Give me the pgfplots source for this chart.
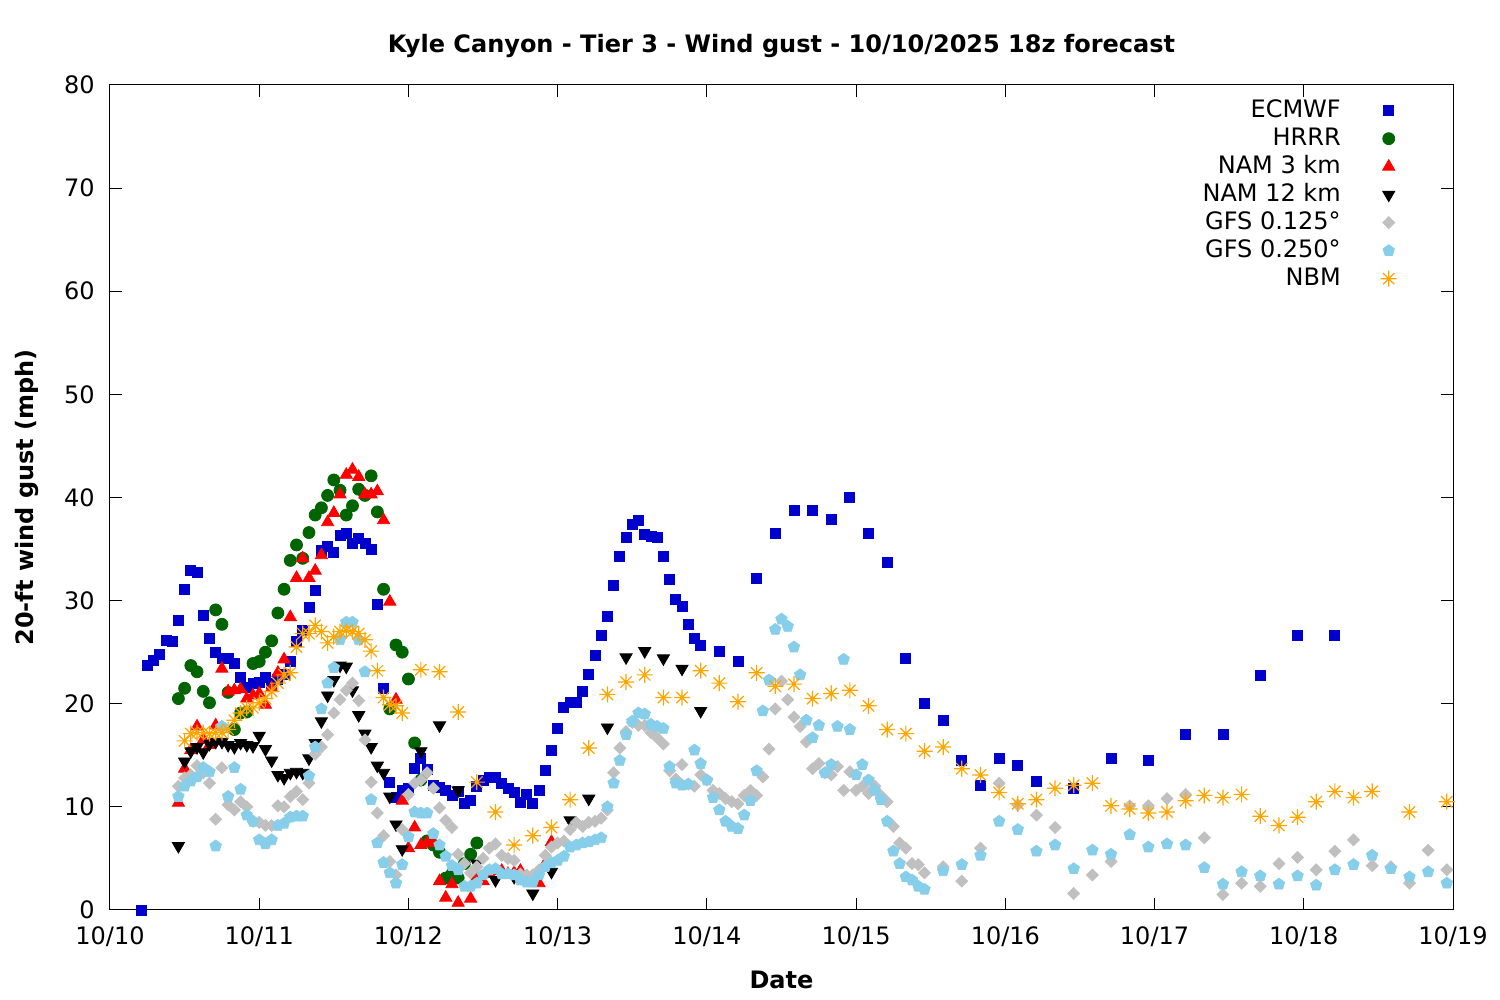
\documentclass[border=0pt]{standalone}
\usepackage{fontspec}
\setmainfont{DejaVu Sans}
\usepackage{pgfplots}
\pgfplotsset{compat=1.18}
\usetikzlibrary{plotmarks}

\definecolor{ecmwf}{HTML}{0000CC}
\definecolor{hrrr}{HTML}{006400}
\definecolor{namthree}{HTML}{FF0000}
\definecolor{namtwelve}{HTML}{000000}
\definecolor{gfsfine}{HTML}{C0C0C0}
\definecolor{gfscoarse}{HTML}{87CEEB}
\definecolor{nbm}{HTML}{FFA500}

% gnuplot-style "*" point: a plus and a cross on top of each other
\pgfdeclareplotmark{gpstar}{%
  \pgfpathmoveto{\pgfqpoint{-\pgfplotmarksize}{0pt}}%
  \pgfpathlineto{\pgfqpoint{\pgfplotmarksize}{0pt}}%
  \pgfpathmoveto{\pgfqpoint{0pt}{-\pgfplotmarksize}}%
  \pgfpathlineto{\pgfqpoint{0pt}{\pgfplotmarksize}}%
  \pgfpathmoveto{\pgfqpoint{-0.707\pgfplotmarksize}{-0.707\pgfplotmarksize}}%
  \pgfpathlineto{\pgfqpoint{0.707\pgfplotmarksize}{0.707\pgfplotmarksize}}%
  \pgfpathmoveto{\pgfqpoint{-0.707\pgfplotmarksize}{0.707\pgfplotmarksize}}%
  \pgfpathlineto{\pgfqpoint{0.707\pgfplotmarksize}{-0.707\pgfplotmarksize}}%
  \pgfusepathqstroke}

\begin{document}%
\fontsize{12}{14.4}\selectfont%
\begin{tikzpicture}
\begin{axis}[
    scale only axis,
    width=671.5pt, height=412.5pt,
    xmin=0, xmax=216, ymin=0, ymax=80,
    xtick={0,24,...,216},
    xticklabels={10/10,10/11,10/12,10/13,10/14,10/15,10/16,10/17,10/18,10/19},
    ytick={0,10,...,80},
    tick align=inside, tick pos=both,
    major tick length=6pt,
    every tick/.style={black, line width=0.5pt},
    axis line style={line width=0.5pt},
    /pgf/number format/assume math mode=true,
    xticklabel style={yshift=-4pt},
    yticklabel style={xshift=-3.5pt},
    title={Kyle Canyon - Tier 3 - Wind gust - 10/10/2025 18z forecast},
    title style={font=\bfseries, at={(axis description cs:0.5,1.0327)}, anchor=center},
    xlabel={Date},
    xlabel style={font=\bfseries, at={(axis description cs:0.5,-0.0848)}, anchor=center},
    ylabel={20-ft wind gust (mph)},
    ylabel style={font=\bfseries, at={(axis description cs:-0.0618,0.5)}, anchor=center},
    legend plot pos=right,
    legend cell align=right,
    legend style={draw=none, fill=none, inner sep=0pt,
        at={(0.9584,0.9833)}, anchor=north east,
        nodes={inner sep=0pt, text height=9pt, text depth=2.5pt},
        row sep=2.5pt, /tikz/column sep=20pt},
]
\addplot[only marks, mark=square*, mark size=2.5pt, color=ecmwf] coordinates {
(5,0)(6,23.7)(7,24.2)(8,24.8)(9,26.1)(10,26.0)(11,28.1)(12,31.1)(13,32.9)(14,32.7)
(15,28.6)(16,26.3)(17,25.0)(18,24.4)(19,24.4)(20,23.9)(21,22.6)(22,21.6)(23,22.0)(24,22.1)
(25,22.6)(26,22.0)(27,22.4)(28,22.8)(29,24.1)(30,26.0)(31,27.1)(32,29.3)(33,31.0)(34,34.9)
(35,35.3)(36,34.7)(37,36.3)(38,36.5)(39,35.5)(40,36.0)(41,35.5)(42,35.0)(43,29.6)(44,21.5)
(45,12.4)(46,10.9)(47,11.6)(48,11.8)(49,13.7)(50,14.7)(51,13.6)(52,12.1)(53,11.9)(54,11.6)
(55,11.1)(56,11.5)(57,10.3)(58,10.6)(59,12.0)(60,12.6)(61,12.9)(62,12.9)(63,12.3)(64,11.8)
(65,11.4)(66,10.4)(67,11.2)(68,10.3)(69,11.6)(70,13.5)(71,15.5)(72,17.6)(73,19.6)(74,20.1)
(75,20.1)(76,21.2)(77,22.8)(78,24.7)(79,26.6)(80,28.5)(81,31.5)(82,34.3)(83,36.1)(84,37.4)
(85,37.8)(86,36.4)(87,36.2)(88,36.1)(89,34.3)(90,32.1)(91,30.1)(92,29.4)(93,27.7)(94,26.3)
(95,25.7)(98,25.1)(101,24.1)(104,32.2)(107,36.5)(110,38.7)(113,38.7)(116,37.9)(119,40.0)
(122,36.5)(125,33.7)(128,24.4)(131,20.0)(134,18.4)(137,14.5)(140,12.1)(143,14.7)(146,14.0)
(149,12.5)(155,11.8)(161,14.7)(167,14.5)(173,17.0)(179,17.0)(185,22.7)(191,26.6)(197,26.6)
};
\addlegendentry{ECMWF}
\addplot[only marks, mark=*, mark size=3pt, color=hrrr] coordinates {
(11,20.5)(12,21.5)(13,23.7)(14,23.1)(15,21.2)(16,20.1)(17,29.1)(18,27.7)(19,21.1)(20,17.5)
(21,19.1)(22,19.2)(23,23.9)(24,24.1)(25,25.0)(26,26.1)(27,28.8)(28,31.1)(29,33.9)(30,35.4)
(31,34.1)(32,36.6)(33,38.3)(34,39.0)(35,40.2)(36,41.7)(37,40.7)(38,38.3)(39,39.2)(40,40.8)
(41,40.2)(42,42.1)(43,38.6)(44,31.1)(45,19.5)(46,25.7)(47,25.0)(48,22.4)(49,16.2)(50,12.6)
(51,6.7)(52,6.3)(53,5.6)(54,3.1)(55,3.5)(56,3.1)(57,4.5)(58,5.4)(59,6.5)
};
\addlegendentry{HRRR}
\addplot[only marks, mark=triangle*, mark size=3.5pt, color=namthree] coordinates {
(11,10.4)(12,13.7)(13,15.5)(14,17.8)(15,16.5)(16,16.0)(17,17.9)(18,23.4)(19,21.2)(20,21.3)
(21,21.4)(22,20.5)(23,20.8)(24,21.0)(25,19.9)(26,21.5)(27,23.0)(28,24.3)(29,28.4)(30,32.2)
(31,34.1)(32,32.2)(33,32.9)(34,34.4)(35,37.6)(36,38.5)(37,40.3)(38,42.2)(39,42.7)(40,42.0)
(41,40.3)(42,40.3)(43,40.6)(44,37.8)(45,29.9)(46,20.4)(47,10.6)(48,6.0)(49,8.0)(50,6.3)
(51,6.5)(52,6.5)(53,2.8)(54,1.2)(55,2.5)(56,0.7)(58,1.1)(59,3.2)(60,2.8)(61,3.5)
(62,3.8)(63,3.8)(64,3.5)(65,3.6)(66,3.8)(67,3.2)(68,3.0)(69,2.6)(70,4.5)(71,6.6)
};
\addlegendentry{NAM 3 km}
\addplot[only marks, mark=triangle*, mark size=3.5pt, mark options={rotate=180}, color=namtwelve] coordinates {
(11,6.2)(12,14.4)(13,15.4)(14,15.8)(15,15.3)(16,16.1)(17,16.3)(18,16.3)(19,16.0)(20,15.8)
(21,16.2)(22,16.0)(23,15.9)(24,16.9)(25,15.6)(26,14.5)(27,13.1)(28,12.8)(29,13.3)(30,13.4)
(31,13.3)(32,14.7)(33,16.2)(34,18.3)(35,20.8)(36,22.3)(37,23.7)(38,23.6)(39,21.3)(40,18.9)
(41,17.1)(42,15.8)(43,14.0)(44,13.3)(45,11.0)(46,8.3)(47,5.9)(50,15.4)(53,17.9)(56,11.6)
(59,4.5)(62,2.9)(65,3.2)(68,1.6)(71,3.7)(74,8.7)(77,10.8)(80,17.7)(83,24.5)(86,25.1)
(89,24.4)(92,23.4)(95,19.3)
};
\addlegendentry{NAM 12 km}
\addplot[only marks, mark=square*, mark size=2.1pt, mark options={rotate=45}, color=gfsfine] coordinates {
(11,12.0)(12,12.8)(13,13.1)(14,14.0)(15,13.3)(16,12.3)(17,8.8)(18,13.8)(19,10.2)(20,9.7)
(21,10.5)(22,10.0)(23,8.6)(24,8.5)(25,8.2)(26,8.2)(27,10.1)(28,10.0)(29,11.0)(30,11.5)
(31,10.7)(32,12.3)(33,15.1)(34,15.8)(35,17.0)(36,19.1)(37,20.4)(38,21.3)(39,22.0)(40,20.3)
(41,16.5)(42,12.4)(43,9.4)(44,7.2)(45,4.7)(46,3.4)(47,7.8)(48,11.2)(49,12.3)(50,12.6)
(51,13.3)(52,11.8)(53,9.9)(54,8.7)(55,8.0)(56,5.4)(57,4.5)(58,3.6)(59,4.2)(60,5.0)
(61,6.0)(62,6.4)(63,5.3)(64,5.0)(65,4.8)(66,3.5)(67,3.4)(68,3.4)(69,3.9)(70,5.3)
(71,6.1)(72,6.5)(73,6.7)(74,7.8)(75,8.5)(76,8.1)(77,8.5)(78,8.6)(79,8.9)(80,9.7)
(81,13.3)(82,15.7)(83,17.3)(84,18.2)(85,17.9)(86,17.9)(87,17.2)(88,16.7)(89,16.1)(90,13.5)
(91,12.7)(92,14.1)(93,12.2)(94,12.0)(95,13.1)(96,12.6)(97,11.6)(98,11.3)(99,10.8)(100,10.5)
(101,10.3)(102,11.1)(103,11.6)(104,11.1)(105,12.9)(106,15.6)(107,19.5)(108,22.2)(109,20.4)(110,18.7)
(111,17.8)(112,16.3)(113,13.7)(114,14.2)(115,13.3)(116,13.1)(117,13.9)(118,11.6)(119,13.4)(120,11.6)
(121,12.0)(122,11.3)(123,12.0)(124,11.1)(125,10.5)(126,8.1)(127,6.5)(128,6.0)(129,4.5)(130,4.4)
(131,3.6)(134,4.2)(137,2.8)(140,6.0)(143,12.3)(146,10.2)(149,9.2)(152,8.0)(155,1.6)(158,3.4)
(161,4.7)(164,10.1)(167,10.1)(170,10.8)(173,11.2)(176,7.0)(179,1.5)(182,2.6)(185,2.3)(188,4.5)
(191,5.1)(194,3.9)(197,5.7)(200,6.8)(203,4.3)(206,4.2)(209,2.6)(212,5.8)(215,3.9)
};
\addlegendentry{GFS 0.125°}
\addplot[only marks, mark=pentagon*, mark size=3pt, color=gfscoarse] coordinates {
(11,11.0)(12,12.0)(13,12.5)(14,12.9)(15,13.8)(16,13.4)(17,6.2)(18,17.8)(19,11.0)(20,13.8)
(21,11.7)(22,9.2)(23,8.6)(24,6.8)(25,6.4)(26,6.8)(27,8.2)(28,8.4)(29,9.0)(30,9.1)
(31,9.1)(32,13.0)(33,15.8)(34,19.5)(35,22.0)(36,23.5)(37,26.2)(38,27.9)(39,27.9)(40,26.2)
(41,23.1)(42,10.7)(43,6.5)(44,4.6)(45,3.6)(46,2.6)(47,4.4)(48,7.1)(49,9.5)(50,9.4)
(51,9.4)(52,7.4)(53,6.3)(54,5.2)(55,4.3)(56,3.9)(57,2.3)(58,2.3)(59,2.6)(60,3.4)
(61,3.9)(62,4.0)(63,3.5)(64,3.5)(65,3.4)(66,2.9)(67,2.7)(68,2.7)(69,3.4)(70,4.2)
(71,4.6)(72,4.8)(73,5.2)(74,6.1)(75,6.3)(76,6.5)(77,6.6)(78,6.8)(79,7.0)(80,10.0)
(81,12.3)(82,14.5)(83,17.0)(84,18.3)(85,19.1)(86,19.0)(87,18.0)(88,17.8)(89,17.6)(90,13.9)
(91,12.3)(92,12.1)(93,12.2)(94,15.5)(95,14.2)(96,12.6)(97,10.9)(98,9.7)(99,8.6)(100,8.1)
(101,7.9)(102,9.2)(103,10.6)(104,13.5)(105,19.3)(106,22.3)(107,27.2)(108,28.2)(109,27.5)(110,25.5)
(111,22.8)(112,18.4)(113,16.7)(114,17.9)(115,13.3)(116,14.1)(117,17.8)(118,24.3)(119,17.5)(120,13.1)
(121,14.1)(122,12.6)(123,11.6)(124,10.7)(125,8.6)(126,5.7)(127,4.5)(128,3.2)(129,2.9)(130,2.3)
(131,2.0)(134,3.8)(137,4.4)(140,5.3)(143,8.6)(146,7.8)(149,5.7)(152,6.3)(155,4.0)(158,5.8)
(161,5.4)(164,7.3)(167,6.1)(170,6.4)(173,6.3)(176,4.1)(179,2.5)(182,3.7)(185,3.3)(188,2.5)
(191,3.3)(194,2.4)(197,3.9)(200,4.4)(203,5.3)(206,4.0)(209,3.2)(212,3.7)(215,2.6)
};
\addlegendentry{GFS 0.250°}
\addplot[only marks, mark=gpstar, mark size=4pt, mark options={line width=0.6pt}, color=nbm] coordinates {
(12,16.4)(13,17.1)(14,17.2)(15,17.2)(16,17.1)(17,17.2)(18,17.2)(19,17.5)(20,18.4)(21,19.1)
(22,19.6)(23,19.6)(24,20.1)(25,20.5)(26,21.2)(27,22.0)(28,22.8)(29,23.0)(30,25.5)(31,26.8)
(32,26.8)(33,27.6)(34,27.0)(35,25.9)(36,26.5)(37,27.0)(38,27.1)(39,27.0)(40,26.8)(41,26.2)
(42,25.1)(43,23.2)(44,20.6)(45,19.9)(46,19.8)(47,19.1)(50,23.3)(53,23.1)(56,19.2)(59,12.4)
(62,9.5)(65,6.3)(68,7.2)(71,8.0)(74,10.7)(77,15.7)(80,20.9)(83,22.1)(86,22.8)(89,20.6)
(92,20.6)(95,23.2)(98,22.0)(101,20.2)(104,23.0)(107,21.7)(110,21.9)(113,20.5)(116,21.0)(119,21.3)
(122,19.8)(125,17.5)(128,17.1)(131,15.4)(134,15.8)(137,13.7)(140,13.1)(143,11.4)(146,10.3)(149,10.7)
(152,11.8)(155,12.1)(158,12.3)(161,10.1)(164,9.8)(167,9.4)(170,9.5)(173,10.6)(176,11.1)(179,10.9)
(182,11.2)(185,9.1)(188,8.2)(191,9.0)(194,10.5)(197,11.5)(200,10.9)(203,11.5)(209,9.5)(215,10.5)
};
\addlegendentry{NBM}
\end{axis}
\pgfresetboundingbox
\path (-55pt,-45pt) rectangle (695pt,455pt);
\end{tikzpicture}%
\end{document}
